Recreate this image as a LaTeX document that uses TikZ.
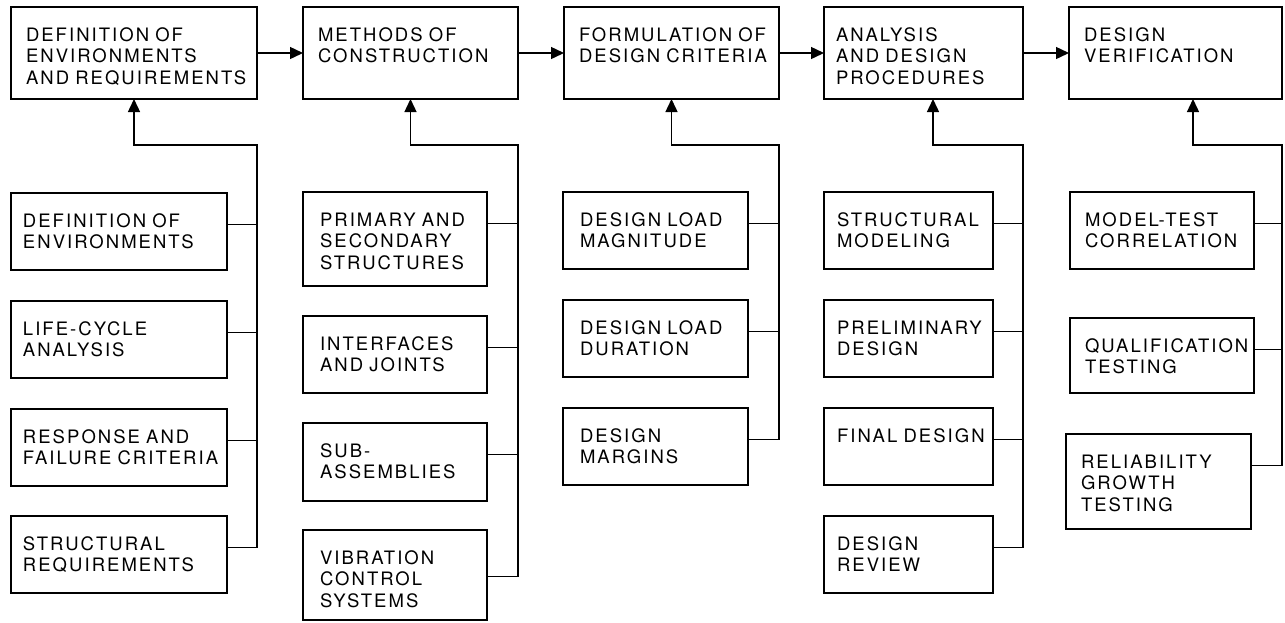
\documentclass[tikz,border=0pt]{standalone}
\usepackage{fontspec}
\setmainfont[LetterSpace=11]{TeX Gyre Heros}
\usetikzlibrary{arrows.meta,positioning}
\hyphenpenalty=10000
\exhyphenpenalty=10000

\begin{document}
\begin{tikzpicture}[
  x=1pt, y=-1pt,
  font=\fontsize{18.5pt}{21.5pt}\selectfont,
  line width=1.4pt,
  blk/.style={draw, rectangle, anchor=north west, align=left, outer sep=0pt, inner xsep=15pt, inner ysep=0pt, text height=34pt},
  top/.style={blk, text depth=58pt},
  sub/.style={blk, text depth=43pt},
  arr/.style={-{Triangle[length=13pt,width=12pt]}},
  node distance=46pt
]
\useasboundingbox (0,0) rectangle (1285,622);

% main sequence
\node[top, text width=216pt] (t1) at (11,7) {DEFINITION OF\\ENVIRONMENTS\\AND~REQUIREMENTS};
\node[top, right=46pt of t1, text width=185pt] (t2) {METHODS OF\\CONSTRUCTION};
\node[top, right=46pt of t2, text width=185pt] (t3) {FORMULATION~OF\\DESIGN~CRITERIA};
\node[top, right=45pt of t3, inner xsep=12pt, text width=175pt] (t4) {ANALYSIS\\AND DESIGN\\PROCEDURES};
\node[top, right=46pt of t4, text width=183pt] (t5) {DESIGN\\VERIFICATION};

\draw[arr] (t1) -- (t2);
\draw[arr] (t2) -- (t3);
\draw[arr] (t3) -- (t4);
\draw[arr] (t4) -- (t5);

% column 1
\node[sub, inner xsep=12pt, text width=192pt] (s1a) at (11,193) {DEFINITION OF\\ENVIRONMENTS};
\node[sub, inner xsep=12pt, text width=192pt] (s1b) at (11,301) {LIFE-CYCLE\\ANALYSIS};
\node[sub, inner xsep=12pt, text width=192pt] (s1c) at (11,409) {RESPONSE AND\\FAILURE~CRITERIA};
\node[sub, inner xsep=12pt, text width=192pt] (s1d) at (11,516) {STRUCTURAL\\REQUIREMENTS};

% column 2
\node[sub, inner xsep=17pt, text width=150pt, text depth=60pt] (s2a) at (303,192) {PRIMARY~AND\\SECONDARY\\STRUCTURES};
\node[sub, inner xsep=17pt, text width=150pt] (s2b) at (303,316) {INTERFACES\\AND JOINTS};
\node[sub, inner xsep=17pt, text width=150pt, text depth=44pt] (s2c) at (303,423) {SUB-\\ASSEMBLIES};
\node[sub, inner xsep=17pt, text width=150pt, text depth=56pt] (s2d) at (303,530) {VIBRATION\\CONTROL\\SYSTEMS};

% column 3
\node[sub, inner xsep=17pt, text width=151pt] (s3a) at (563,192) {DESIGN~LOAD\\MAGNITUDE};
\node[sub, inner xsep=17pt, text width=151pt] (s3b) at (563,300) {DESIGN~LOAD\\DURATION};
\node[sub, inner xsep=17pt, text width=151pt] (s3c) at (563,408) {DESIGN\\MARGINS};

% column 4
\node[sub, inner xsep=13pt, text width=143pt] (s4a) at (824,192) {STRUCTURAL\\MODELING};
\node[sub, inner xsep=13pt, text width=143pt] (s4b) at (824,300) {PRELIMINARY\\DESIGN};
\node[sub, inner xsep=13pt, text width=143pt] (s4c) at (824,408) {FINAL~DESIGN};
\node[sub, inner xsep=13pt, text width=143pt] (s4d) at (824,516) {DESIGN\\REVIEW};

% column 5
\node[sub, text width=154pt] (s5a) at (1070,192) {MODEL-TEST\\CORRELATION};
\node[sub, text width=154pt, text depth=41pt] (s5b) at (1070,318) {QUALIFICATION\\TESTING};
\node[sub, text width=155pt, text depth=61pt] (s5c) at (1066,434) {RELIABILITY\\GROWTH\\TESTING};

% feeder buses
\coordinate (k1) at ([yshift=-46pt]t1.south east);
\coordinate (k2) at ([yshift=-46pt]t2.south east);
\coordinate (k3) at ([yshift=-46pt]t3.south east);
\coordinate (k4) at ([yshift=-46pt]t4.south east);
\coordinate (k5) at ([yshift=-46pt]t5.south east);

\draw[arr] (s1d.mid east) -| (k1) -| (t1.south);
\draw (s1a.mid east) -- (s1a.mid east -| k1);
\draw (s1b.mid east) -- (s1b.mid east -| k1);
\draw (s1c.mid east) -- (s1c.mid east -| k1);

\draw[arr] ([yshift=-15pt]s2d.mid east) -| (k2) -| (t2.south);
\draw (s2a.mid east) -- (s2a.mid east -| k2);
\draw (s2b.mid east) -- (s2b.mid east -| k2);
\draw (s2c.mid east) -- (s2c.mid east -| k2);

\draw[arr] (s3c.mid east) -| (k3) -| (t3.south);
\draw (s3a.mid east) -- (s3a.mid east -| k3);
\draw (s3b.mid east) -- (s3b.mid east -| k3);

\draw[arr] (s4d.mid east) -| (k4) -| ([xshift=9.5pt]t4.south);
\draw (s4a.mid east) -- (s4a.mid east -| k4);
\draw (s4b.mid east) -- (s4b.mid east -| k4);
\draw (s4c.mid east) -- (s4c.mid east -| k4);

\draw[arr] (s5c.mid east) -| (k5) -| ([xshift=17.5pt]t5.south);
\draw (s5a.mid east) -- (s5a.mid east -| k5);
\draw (s5b.mid east) -- (s5b.mid east -| k5);
\end{tikzpicture}
\end{document}
